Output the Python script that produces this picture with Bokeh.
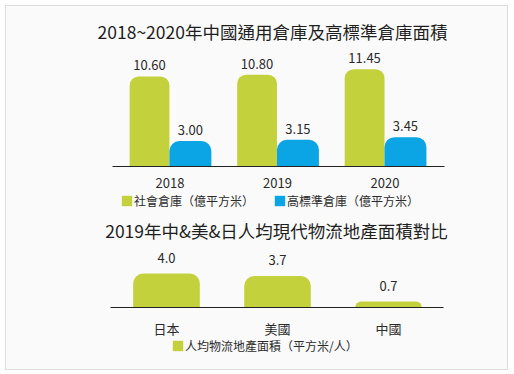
from bokeh.plotting import figure
from bokeh.models import (ColumnDataSource, FactorRange, Range1d, LabelSet,
                          Label, Legend, LegendItem)
from bokeh.transform import dodge
from bokeh.layouts import column
from bokeh.embed import file_html
from bokeh.resources import INLINE
from bokeh.core.properties import value

FONT = "Noto Sans CJK TC"

# ---------------- data ----------------
years = ["2018", "2019", "2020"]
general_wh = [10.60, 10.80, 11.45]
high_std_wh = [3.00, 3.15, 3.45]
general_labels = ["10.60", "10.80", "11.45"]
high_std_labels = ["3.00", "3.15", "3.45"]
series_top = ["社會倉庫（億平方米）", "高標準倉庫（億平方米）"]
title_top = "2018~2020年中國通用倉庫及高標準倉庫面積"

countries = ["日本", "美國", "中國"]
per_capita = [4.0, 3.7, 0.7]
per_capita_labels = ["4.0", "3.7", "0.7"]
series_bottom = "人均物流地產面積（平方米/人）"
title_bottom = "2019年中&美&日人均現代物流地產面積對比"

# ---------------- style ----------------
GREEN = "#C3D13D"
BLUE = "#0BA4E4"
BG = "#FAFAFA"
INK = "#1E1E1E"
W = 501
PX_PER_UNIT = 8.5


def make_fig(x_range, height, above, left):
    below = height - above
    p = figure(width=W, height=height, x_range=x_range,
               y_range=Range1d(-below / PX_PER_UNIT, above / PX_PER_UNIT),
               y_axis_location=None, output_backend="svg",
               toolbar_location=None, min_border_left=left,
               min_border_right=0, min_border_top=0, min_border_bottom=0)
    p.background_fill_color = BG
    p.border_fill_color = BG
    p.outline_line_color = None
    p.xgrid.grid_line_color = None
    p.ygrid.grid_line_color = None
    return p


def style_axis(p, standoff, bounds):
    ax = p.xaxis[0]
    ax.fixed_location = 0
    ax.bounds = bounds
    ax.axis_line_color = "#222222"
    ax.axis_line_width = 1
    ax.major_tick_line_color = None
    ax.minor_tick_line_color = None
    ax.major_label_text_font = FONT
    ax.major_label_text_font_size = "13px"
    ax.major_label_text_color = "#2a2a2a"
    ax.major_label_standoff = standoff


def make_legend(items, loc, spacing=19):
    return Legend(items=items, orientation="horizontal", location=loc,
                  margin=0, padding=0, spacing=spacing, label_standoff=1,
                  glyph_width=13, glyph_height=13, label_height=11,
                  label_text_font=FONT, label_text_font_size="12px",
                  label_text_color="#2a2a2a", background_fill_alpha=0,
                  border_line_color=None)


# ---------------- top chart ----------------
H1 = 206
A1 = 160
p1 = make_fig(FactorRange(*years, range_padding=0.639,
                          range_padding_units="absolute"), H1, A1, 39)
style_axis(p1, 5, (-0.037, 3.056))

src1 = ColumnDataSource(dict(year=years, general=general_wh, high=high_std_wh,
                             gl=general_labels, hl=high_std_labels))
r_g = p1.vbar(x=dodge("year", -0.19, range=p1.x_range), top="general",
              width=0.37, source=src1, fill_color=GREEN, line_color=None,
              border_radius=(9, 9, 0, 0))
r_b = p1.vbar(x=dodge("year", 0.19, range=p1.x_range), top="high",
              width=0.39, source=src1, fill_color=BLUE, line_color=None,
              border_radius=(10, 10, 0, 0))
for fld, lab, dx in (("general", "gl", -0.19), ("high", "hl", 0.19)):
    p1.add_layout(LabelSet(x=dodge("year", dx, range=p1.x_range), y=fld,
                           text=lab, source=src1, y_offset=6,
                           text_align="center", text_baseline="alphabetic",
                           text_font=value(FONT), text_font_size=value("13px"),
                           text_color="#2a2a2a"))

p1.add_layout(Label(x=225, y=H1 - 25, x_units="screen", y_units="screen",
                    text=title_top, text_align="center",
                    text_baseline="middle", text_font=FONT,
                    text_font_size="17.5px", text_color=INK))

p1.add_layout(make_legend([LegendItem(label=series_top[0], renderers=[r_g]),
                           LegendItem(label=series_top[1], renderers=[r_b])],
                          (73, 3.5)))

# ---------------- bottom chart ----------------
H2 = 157
A2 = 95
p2 = make_fig(FactorRange(*countries, range_padding=0.572,
                          range_padding_units="absolute"), H2, A2, 41)
style_axis(p2, 5, (-0.005, 2.995))

src2 = ColumnDataSource(dict(country=countries, val=per_capita,
                             lab=per_capita_labels))
r_c = p2.vbar(x="country", top="val", width=0.6, source=src2,
              fill_color=GREEN, line_color=None, border_radius=(10, 10, 0, 0))
p2.add_layout(LabelSet(x="country", y="val", text="lab", source=src2,
                       y_offset=11, text_align="center",
                       text_baseline="alphabetic", text_font=value(FONT),
                       text_font_size=value("13px"), text_color="#2a2a2a"))
p2.add_layout(Label(x=229, y=H2 - 18, x_units="screen", y_units="screen",
                    text=title_bottom, text_align="center",
                    text_baseline="middle", text_font=FONT,
                    text_font_size="17.5px", text_color=INK))
p2.add_layout(make_legend([LegendItem(label=series_bottom, renderers=[r_c])],
                          (124, 15), spacing=0))

layout = column(p1, p2, spacing=0, margin=(5, 5, 3, 5),
                styles={"border": "1px solid #dcdcdc", "background": BG})

with open("out.html", "w") as f:
    f.write(file_html(layout, INLINE))
